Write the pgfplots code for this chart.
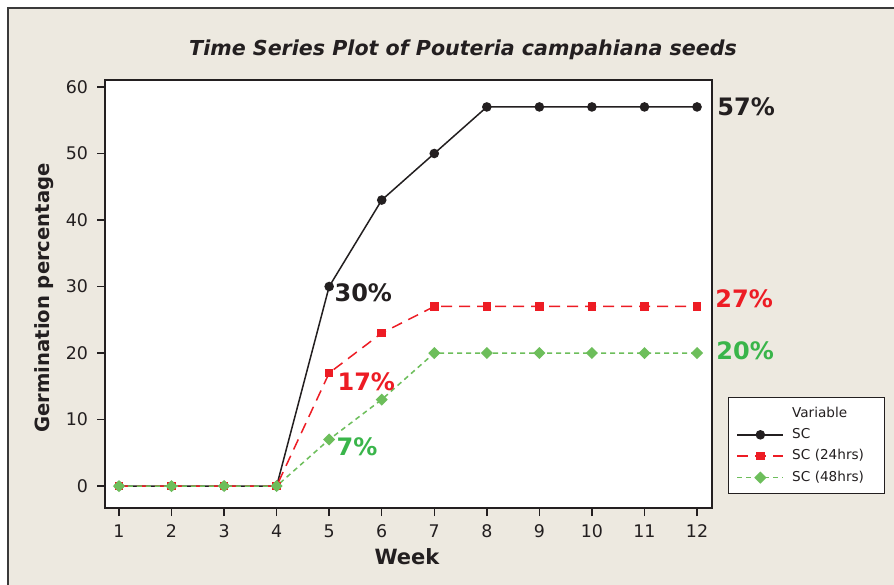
\documentclass[border=0pt]{standalone}
\usepackage{fontspec}
\setmainfont{DejaVu Sans}
\usepackage{pgfplots}
\pgfplotsset{compat=1.18}
\definecolor{bg}{HTML}{EDE9E0}
\definecolor{ink}{HTML}{231F20}
\definecolor{sred}{HTML}{ED1C24}
\definecolor{sgreen}{HTML}{6DBE5B}
\definecolor{tgreen}{HTML}{39B54A}
\definecolor{framec}{HTML}{3A3A3A}
\begin{document}
\begin{tikzpicture}
\useasboundingbox (0pt,0pt) rectangle (447pt,292pt);
\fill[white] (0pt,0pt) rectangle (447pt,292pt);
\fill[bg] (4pt,-5pt) rectangle (452pt,288pt);
\draw[framec, line width=1pt] (4pt,-5pt) -- (4pt,288pt) -- (452pt,288pt);
\begin{axis}[
  at={(52.5pt,38pt)}, anchor=south west,
  scale only axis, width=303.5pt, height=214pt,
  xmin=0.734, xmax=12.285, ymin=-3.3, ymax=61.05,
  xtick={1,...,12}, ytick={0,10,...,60},
  tick pos=left, tick align=outside, major tick length=4pt,
  axis line style={ink, line width=0.7pt},
  tick style={ink, line width=0.7pt},
  ticklabel style={font=\fontsize{8.7}{10}\selectfont, text=ink},
  yticklabel style={xshift=-1pt},
  xticklabel style={yshift=-1pt},
  /pgf/number format/assume math mode=true,
  axis background/.style={fill=white},
  clip=false,
  every axis title shift=0pt,
  title={Time Series Plot of Pouteria campahiana seeds},
  title style={at={(axis description cs:0.5898,1.0701)}, anchor=center, font=\bfseries\itshape\fontsize{10.3}{12}\selectfont, text=ink},
  xlabel={Week},
  xlabel style={at={(axis description cs:0.4975,-0.1145)}, anchor=center, font=\bfseries\fontsize{10.5}{12}\selectfont, text=ink},
  ylabel={Germination percentage},
  ylabel style={at={(axis description cs:-0.1005,0.4907)}, anchor=center, font=\bfseries\fontsize{9.8}{12}\selectfont, text=ink},
  legend entries={Variable, SC, SC (24hrs), SC (48hrs)},
  legend cell align=left,
  legend image code/.code={\draw[mark repeat=2,mark phase=2,#1] plot coordinates {(0pt,0pt) (11.5pt,0pt) (23pt,0pt)};},
  legend style={at={(axis description cs:1.0264,0.2593)}, anchor=north west,
    draw=ink, line width=0.6pt, fill=white, font=\fontsize{6.8}{8}\selectfont, text=ink,
    inner xsep=4pt, inner ysep=4.5pt, row sep=3.9pt,
    nodes={inner sep=0pt, text height=5.2pt, text depth=1.6pt},
    /tikz/every odd column/.append style={column sep=4pt},
    /tikz/every even column/.append style={nodes={text width=42pt, align=left}}},
]
\addlegendimage{empty legend}
\addplot[ink, line width=0.75pt, mark=*, mark size=2pt, mark options={solid, fill=ink}]
  coordinates {(1,0)(2,0)(3,0)(4,0)(5,30)(6,43)(7,50)(8,57)(9,57)(10,57)(11,57)(12,57)};
\addplot[sred, line width=0.75pt, dash pattern=on 5.5pt off 3.5pt, mark=square*, mark size=1.75pt, mark options={solid, fill=sred}]
  coordinates {(1,0)(2,0)(3,0)(4,0)(5,17)(6,23)(7,27)(8,27)(9,27)(10,27)(11,27)(12,27)};
\addplot[sgreen, line width=0.75pt, dash pattern=on 2.5pt off 2pt, mark=square*, mark size=1.75pt, mark options={solid, fill=sgreen, rotate=45}]
  coordinates {(1,0)(2,0)(3,0)(4,0)(5,7)(6,13)(7,20)(8,20)(9,20)(10,20)(11,20)(12,20)};
\node[anchor=west, inner sep=0pt, text=ink, font=\bfseries\fontsize{12}{14}\selectfont, xshift=10pt] at (axis cs:12,57) {57\%};
\node[anchor=west, inner sep=0pt, text=sred, font=\bfseries\fontsize{12}{14}\selectfont, xshift=9pt, yshift=3.7pt] at (axis cs:12,27) {27\%};
\node[anchor=west, inner sep=0pt, text=tgreen, font=\bfseries\fontsize{12}{14}\selectfont, xshift=9.5pt, yshift=1pt] at (axis cs:12,20) {20\%};
\node[anchor=west, inner sep=0pt, text=ink, font=\bfseries\fontsize{12}{14}\selectfont, xshift=2.5pt, yshift=-3pt] at (axis cs:5,30) {30\%};
\node[anchor=west, inner sep=0pt, text=sred, font=\bfseries\fontsize{12}{14}\selectfont, xshift=4pt, yshift=-4.5pt] at (axis cs:5,17) {17\%};
\node[anchor=west, inner sep=0pt, text=tgreen, font=\bfseries\fontsize{12}{14}\selectfont, xshift=3.5pt, yshift=-3.7pt] at (axis cs:5,7) {7\%};
\end{axis}
\end{tikzpicture}
\end{document}
